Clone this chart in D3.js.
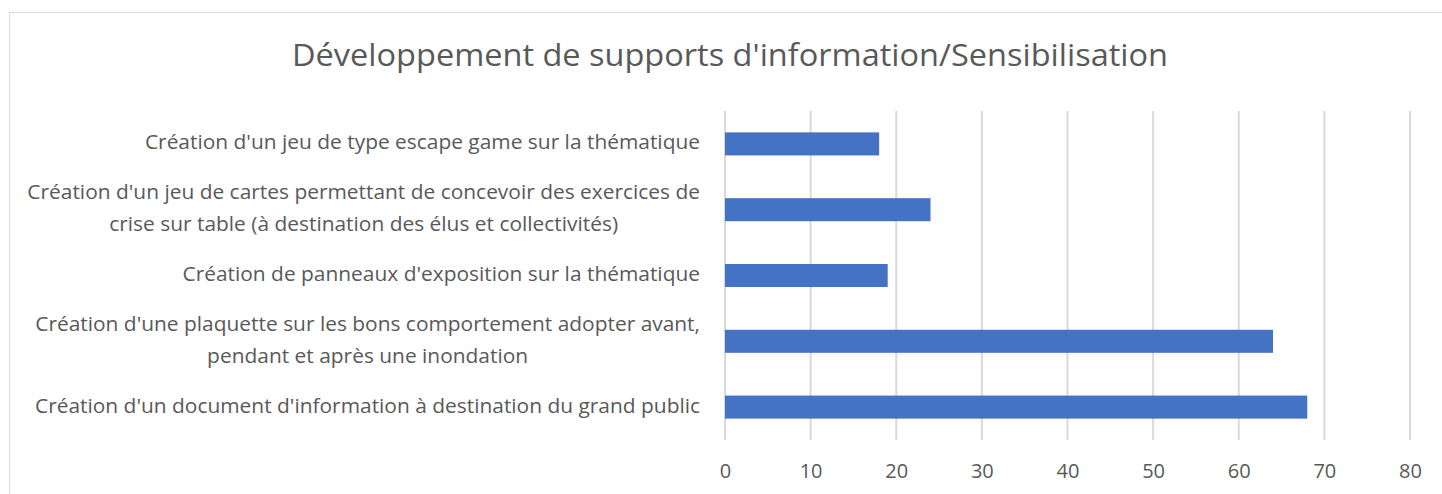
<!DOCTYPE html>
<html><head><meta charset="utf-8">
<script src="https://cdn.jsdelivr.net/npm/d3@7"></script>
<style>body{margin:0;background:#fff}svg{display:block}</style>
</head><body>
<script>
const title = "Développement de supports d'information/Sensibilisation";
const categories = [
  "Création d'un jeu de type escape game sur la thématique",
  "Création d'un jeu de cartes permettant de concevoir des exercices de\ncrise sur table (à destination des élus et collectivités)",
  "Création de panneaux d'exposition sur la thématique ",
  "Création d'une plaquette sur les bons comportement adopter avant,\npendant et après une inondation",
  "Création d'un document d'information à destination du grand public"
];
const values = [18, 24, 19, 64, 68];
const ticks = [0, 10, 20, 30, 40, 50, 60, 70, 80];

const W = 1442, H = 494;
const font = "'Open Sans', sans-serif";
const svg = d3.select("body").append("svg").attr("width", W).attr("height", H);

svg.append("rect").attr("x", 9.5).attr("y", 12.5).attr("width", W + 10).attr("height", H + 10)
  .attr("fill", "#fff").attr("stroke", "#d9d9d9").attr("stroke-width", 1);

const tt = svg.append("text").attr("x", 730).attr("y", 66).attr("text-anchor", "middle")
  .attr("font-family", font).attr("font-size", 31).attr("fill", "#595959").text(title);
tt.attr("textLength", 876).attr("lengthAdjust", "spacingAndGlyphs");

const x = d3.scaleLinear().domain([0, 80]).range([725, 1410]);
const y = d3.scaleBand().domain(categories).range([111, 440]).paddingInner(0.65).paddingOuter(0.325);

svg.append("g").selectAll("line").data(ticks).join("line")
  .attr("x1", d => x(d)).attr("x2", d => x(d)).attr("y1", 111).attr("y2", 440)
  .attr("stroke", "#d9d9d9").attr("stroke-width", 2);

svg.append("g").selectAll("rect").data(values).join("rect")
  .attr("x", x(0)).attr("y", (d, i) => y(categories[i]))
  .attr("width", d => x(d) - x(0)).attr("height", y.bandwidth())
  .attr("fill", "#4472c4");

const xAxis = d3.axisBottom(x).tickValues(ticks).tickSize(0).tickPadding(0);
const gx = svg.append("g").attr("transform", "translate(0,478)").call(xAxis);
gx.select(".domain").remove();
gx.selectAll("text").attr("font-family", font).attr("font-size", 20).attr("fill", "#595959").attr("dy", "0");

const lg = svg.append("g");
const fs = 20;
let all = [];
categories.forEach((c, i) => {
  const lines = c.split("\n");
  const cy = y(c) + y.bandwidth() / 2;
  const t = lg.append("text").attr("font-family", font).attr("font-size", fs).attr("fill", "#595959")
    .attr("text-anchor", "middle");
  const lh = 32;
  const tspans = lines.map((l, k) => t.append("tspan").attr("x", 0)
    .attr("y", cy + (k - (lines.length - 1) / 2) * lh).attr("dy", 5.5).text(l));
  all.push(tspans);
});
const refW = all[4][0].node().getComputedTextLength();
const k = 665 / refW;
all.forEach(tspans => {
  const ws = tspans.map(s => s.node().getComputedTextLength() * k);
  const maxW = d3.max(ws);
  tspans.forEach((s, j) => s.attr("x", 700 - maxW / 2).attr("textLength", ws[j]).attr("lengthAdjust", "spacingAndGlyphs"));
});
</script>
</body></html>
